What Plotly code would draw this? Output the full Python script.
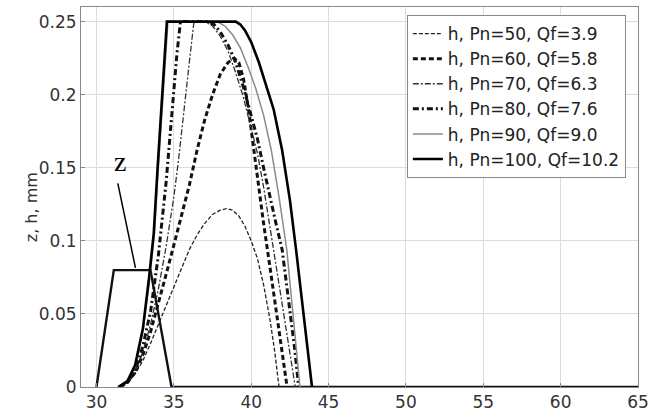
import plotly.graph_objects as go

# ---------------- data ----------------
z_x = [30, 31.12, 33.49, 34.85, 65]
z_y = [0, 0.08, 0.08, 0, 0]

x50 = [31.5, 32, 32.5, 33, 33.5, 34, 34.5, 35, 35.5, 36, 36.5, 37, 37.5, 38, 38.4, 38.8, 39.2, 39.6, 40, 40.4, 40.8, 41.2, 41.5, 41.8]
h50 = [0, 0.003, 0.009, 0.018, 0.03, 0.043, 0.056, 0.069, 0.082, 0.094, 0.104, 0.112, 0.118, 0.121, 0.122, 0.121, 0.117, 0.11, 0.1, 0.088, 0.07, 0.047, 0.026, 0]

x60 = [31.5, 32, 32.5, 33, 33.5, 34, 34.5, 35, 35.5, 36, 36.5, 37, 37.5, 38, 38.5, 38.9, 39.2, 39.5, 39.8, 40.1, 40.4, 40.8, 41.2, 41.6, 42.0, 42.32]
h60 = [0, 0.003, 0.01, 0.022, 0.038, 0.057, 0.077, 0.097, 0.117, 0.138, 0.162, 0.183, 0.2, 0.214, 0.222, 0.225, 0.222, 0.211, 0.192, 0.168, 0.143, 0.112, 0.083, 0.054, 0.025, 0]

x70 = [31.5, 32, 32.5, 33, 33.5, 34, 34.5, 35, 35.3, 35.64, 36.0, 36.3, 37.0, 37.5, 38.0, 38.5, 39.0, 39.5, 40.0, 40.4, 40.8, 41.2, 41.6, 42.0, 42.4, 42.85]
h70 = [0, 0.003, 0.01, 0.024, 0.043, 0.067, 0.096, 0.13, 0.155, 0.19, 0.222, 0.25, 0.25, 0.247, 0.24, 0.23, 0.215, 0.198, 0.178, 0.16, 0.137, 0.11, 0.084, 0.057, 0.03, 0]

x80 = [31.5, 32, 32.5, 33, 33.5, 34, 34.5, 34.9, 35.2, 35.43, 37.2, 37.6, 38.0, 38.5, 39.0, 39.5, 40.0, 40.4, 40.8, 41.2, 41.6, 42.0, 42.4, 42.8, 43.07]
h80 = [0, 0.003, 0.011, 0.028, 0.052, 0.09, 0.14, 0.19, 0.228, 0.25, 0.25, 0.248, 0.243, 0.234, 0.222, 0.205, 0.186, 0.17, 0.15, 0.13, 0.112, 0.094, 0.062, 0.027, 0]

x90 = [31.45, 32, 32.5, 33, 33.4, 33.75, 34.0, 34.3, 34.62, 37.8, 38.3, 38.8, 39.3, 39.8, 40.3, 40.8, 41.3, 41.8, 42.3, 42.7, 43.15]
h90 = [0, 0.004, 0.014, 0.038, 0.07, 0.105, 0.15, 0.2, 0.25, 0.25, 0.247, 0.241, 0.232, 0.219, 0.204, 0.186, 0.162, 0.13, 0.094, 0.05, 0]

x100 = [31.4, 32, 32.5, 33, 33.4, 33.7, 33.95, 34.25, 34.55, 39.0, 39.3, 39.6, 40.0, 40.5, 41.0, 41.45, 42.0, 42.5, 42.9, 43.4, 43.93]
h100 = [0, 0.004, 0.015, 0.04, 0.075, 0.105, 0.15, 0.2, 0.25, 0.25, 0.248, 0.244, 0.236, 0.222, 0.205, 0.19, 0.162, 0.128, 0.094, 0.05, 0]

legend_names = ["h, Pn=50, Qf=3.9", "h, Pn=60, Qf=5.8", "h, Pn=70, Qf=6.3",
                "h, Pn=80, Qf=7.6", "h, Pn=90, Qf=9.0", "h, Pn=100, Qf=10.2"]

x_ticks = [30, 35, 40, 45, 50, 55, 60, 65]
y_ticks = [0, 0.05, 0.1, 0.15, 0.2, 0.25]

z_label_pos = [31.5, 0.154]
z_pointer = [31.36, 0.1404, 32.52, 0.0815]

# ---------------- figure ----------------
series = [
    (x50, h50, dict(color="#222", width=1.3, dash="4px,2px")),
    (x60, h60, dict(color="#111", width=3, dash="5px,3px")),
    (x70, h70, dict(color="#333", width=1.3, dash="6px,2px,2px,2px")),
    (x80, h80, dict(color="#111", width=3, dash="6px,3px,2px,3px")),
    (x90, h90, dict(color="#8a8a8a", width=1.5)),
    (x100, h100, dict(color="#000", width=2.6)),
]

FONT = "DejaVu Sans"

fig = go.Figure()
fig.add_trace(go.Scatter(x=z_x, y=z_y, mode="lines", line=dict(color="#111", width=2.4),
                         showlegend=False, hoverinfo="skip"))
for i, (xs, ys, ln) in enumerate(series):
    fig.add_trace(go.Scatter(x=xs, y=ys, mode="lines", line=ln, name=legend_names[i]))

fig.add_annotation(x=z_label_pos[0], y=z_label_pos[1], text="z", showarrow=False,
                   font=dict(family="Liberation Serif", size=28, color="#000"))
fig.add_annotation(x=z_pointer[2], y=z_pointer[3], ax=z_pointer[0], ay=z_pointer[1],
                   axref="x", ayref="y", text="", showarrow=True, arrowhead=0,
                   arrowwidth=1.5, arrowcolor="#000")
fig.add_annotation(xref="paper", yref="paper", x=-0.108, y=0.474, text="z, h, mm",
                   textangle=-90, showarrow=False,
                   font=dict(family=FONT, size=16, color="#333"))

fig.update_layout(
    width=650, height=417,
    margin=dict(l=81, r=12, t=7, b=30, autoexpand=False),
    plot_bgcolor="white", paper_bgcolor="white",
    font=dict(family=FONT, size=17, color="#333"),
    showlegend=True,
    legend=dict(x=0.585, y=0.979, xanchor="left", yanchor="top",
                bgcolor="white", bordercolor="#888", borderwidth=1,
                font=dict(family=FONT, size=17, color="#222"),
                itemwidth=30),
)
fig.update_xaxes(range=[29, 65], tickvals=x_ticks, showgrid=True, gridcolor="#dcdcdc",
                 showline=True, linecolor="#888", mirror=True, ticks="inside",
                 ticklen=4, tickcolor="#888", zeroline=False, automargin=False,
                 tickfont=dict(family=FONT, size=17, color="#333"))
fig.update_yaxes(range=[0, 0.26], tickvals=y_ticks, showgrid=True, gridcolor="#dcdcdc",
                 showline=True, linecolor="#888", mirror=True, ticks="inside",
                 ticklen=4, tickcolor="#888", zeroline=False, automargin=False,
                 tickfont=dict(family=FONT, size=17, color="#333"))

fig.write_html("out.html", config={"displayModeBar": False},
               post_script="document.body.style.margin='0';")
